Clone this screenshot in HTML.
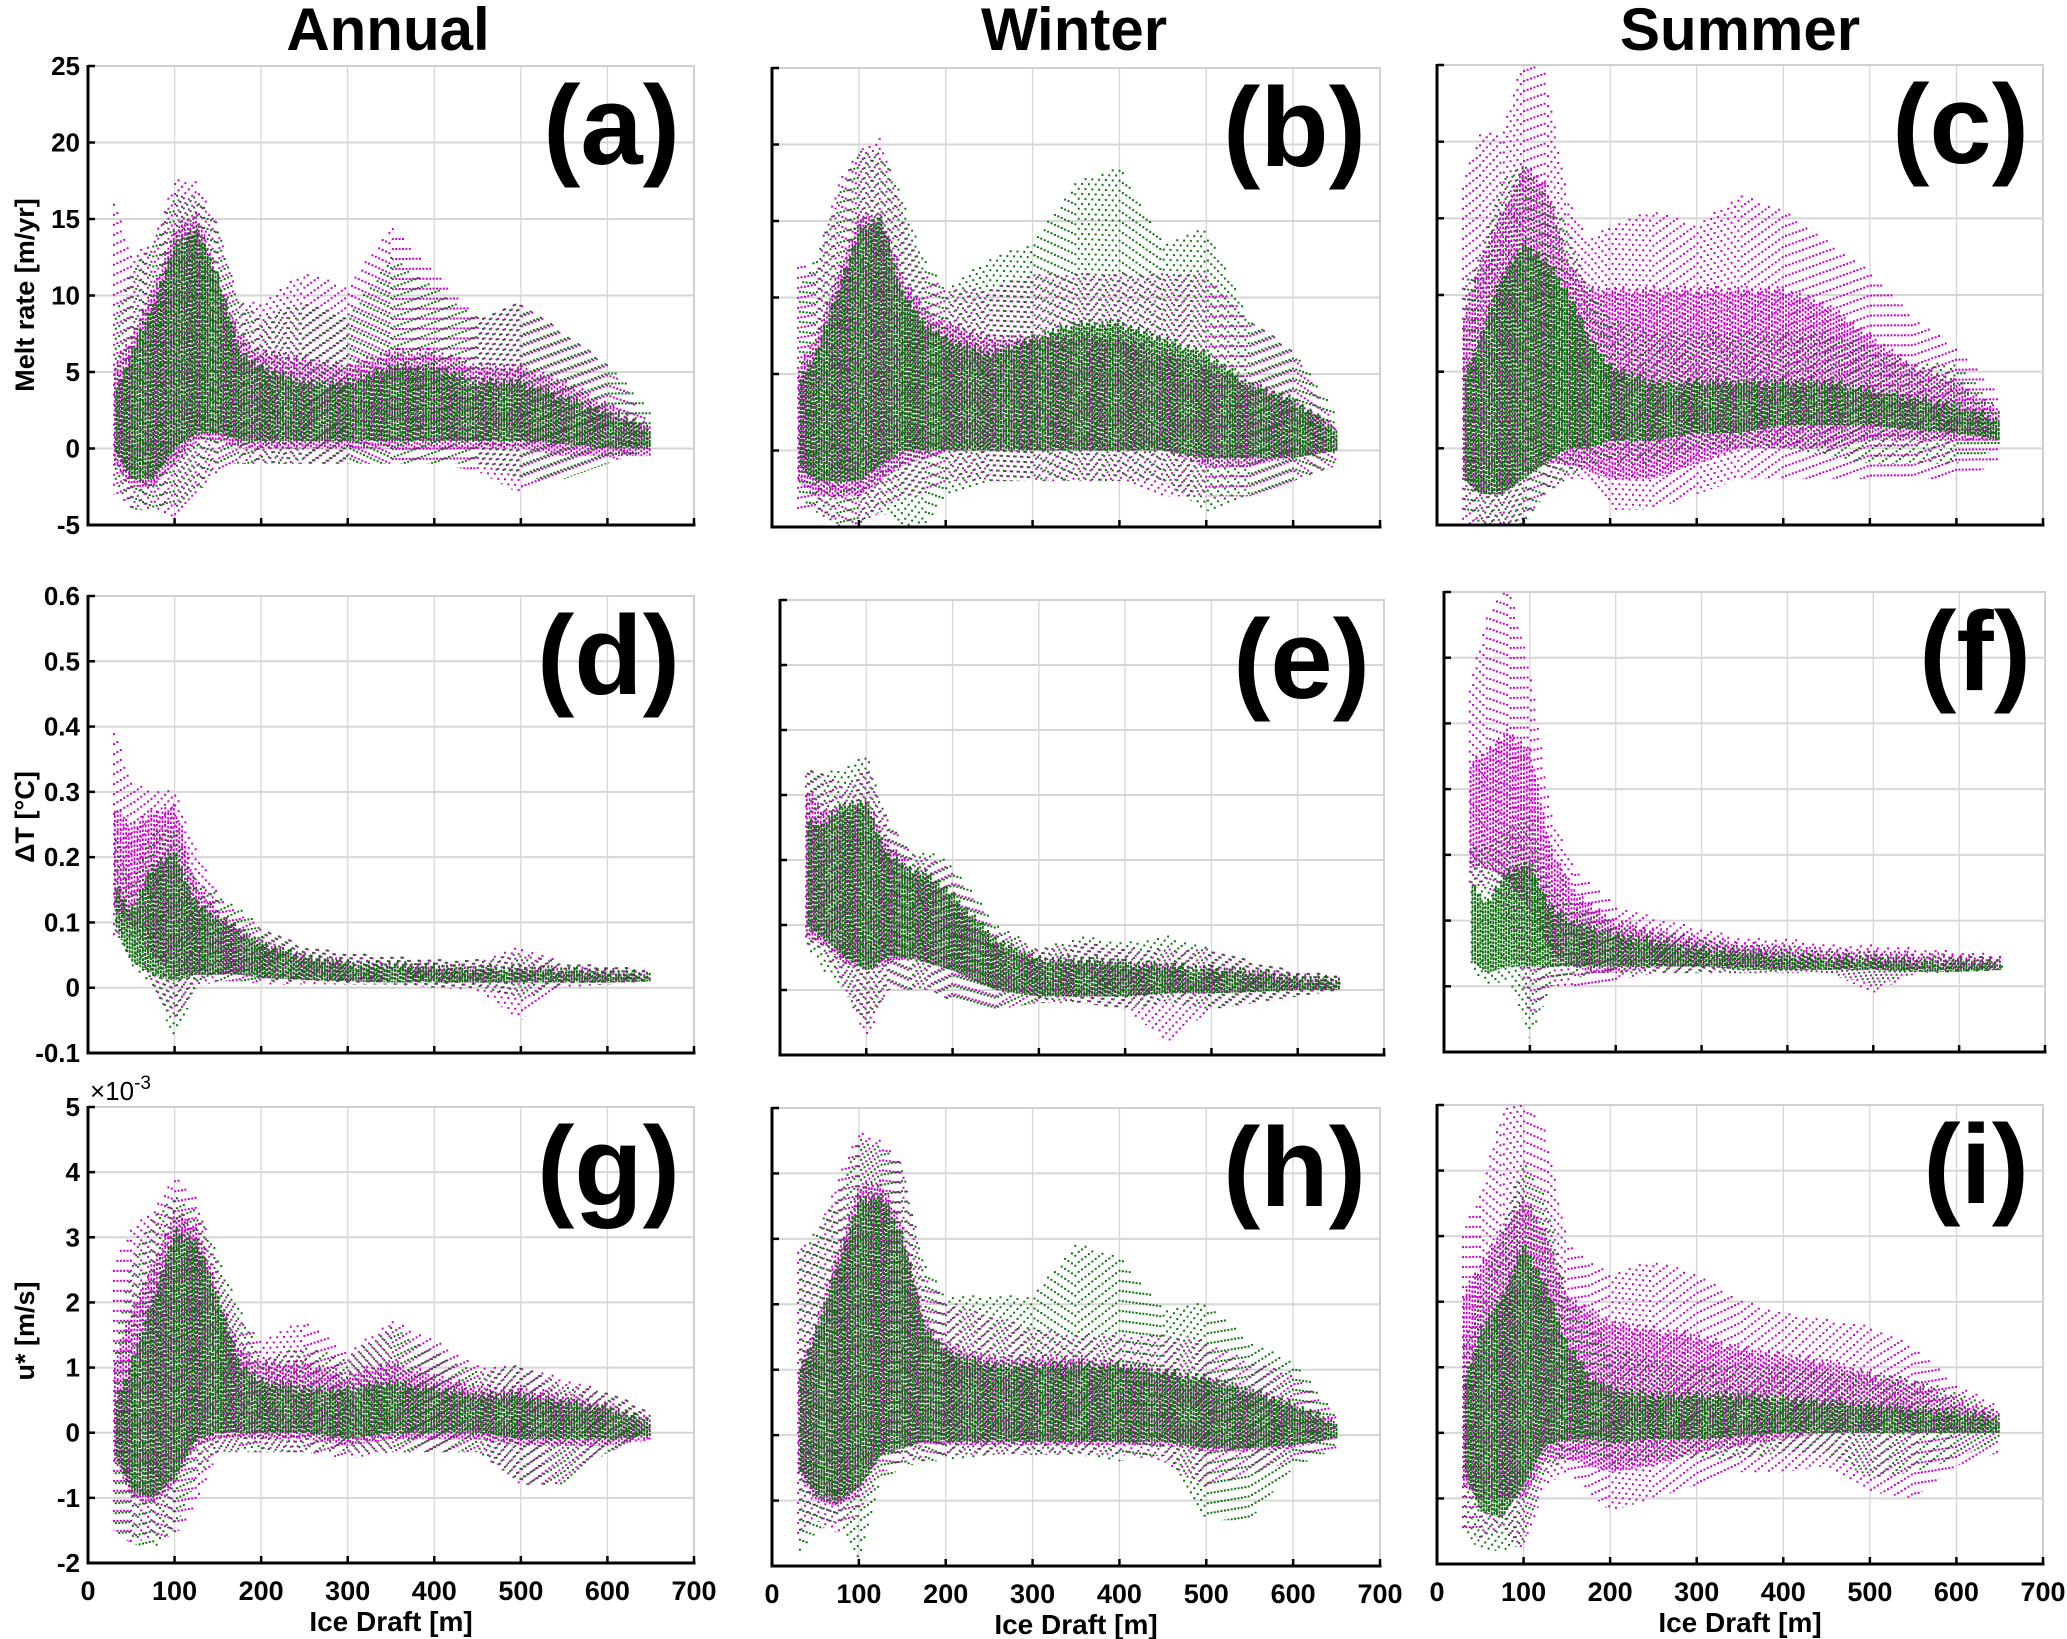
<!DOCTYPE html>
<html><head><meta charset="utf-8"><style>
html,body{margin:0;padding:0;background:#fff;}
svg{display:block;}
text{font-family:"Liberation Sans",Arial,sans-serif;}
</style></head><body>
<svg id="fig" width="2067" height="1639" viewBox="0 0 2067 1639" xmlns="http://www.w3.org/2000/svg">
<rect width="2067" height="1639" fill="#fff"/>
<text x="388" y="50" font-size="60" font-weight="bold" text-anchor="middle">Annual</text>
<text x="1074" y="50" font-size="60" font-weight="bold" text-anchor="middle">Winter</text>
<text x="1740" y="50" font-size="60" font-weight="bold" text-anchor="middle">Summer</text>
<g id="plots"></g>
</svg>
<script>
// ---- data (draft bins in m) ----
const draft=[30,50,75,100,125,150,175,200,250,300,350,400,450,500,550,600,650];
// (a) annual melt rate [m/yr]
const a_g_hi=[8,11,13,16,16,14,9,8,9,8,12,10,8,9,7,5,2];
const a_g_lo=[-2,-4,-4,-4,-3,-1,-1,-1,-1,-1,-1,-1,-1,-2,-2,-1,0];
const a_g_chi=[3,6,9,13,14,11,6,5,4,4,5,5,4,4,3,2,1];
const a_g_clo=[0,-2,-2,0,1,1,0.5,0.5,0.5,0.5,0.5,0.5,0.5,0.5,0.3,0,0];
const a_m_hi=[16,12,13,17,17,14,9,9,11,10,14,11,8,9,7,5,1];
const a_m_lo=[-3,-4,-4,-4.5,-3,-1.5,-1,-1,-1,-1,-1,-1,-1.5,-3,-2,-1,0];
const a_m_chi=[5,7,10,14,15,11,7,6,5.5,5,6,6,5,5,4,2.5,1];
const a_m_clo=[-1,-2.5,-2.5,-1,0.5,0.5,0,0,0,0,0,0,0,0,-0.5,-0.5,-0.5];
// (b) winter melt rate
const b_g_hi=[10,12,16,19,19,16,12,10,12,13,17,18,13,14,8,6,2];
const b_g_lo=[-3,-4,-5,-5,-4,-5,-5,-3,-2,-2,-2,-2,-2,-4,-3,-2,-1];
const b_g_chi=[4,6,10,14,15,10,8,7,6,7,8,8,7,6,4,3,1];
const b_g_clo=[-1,-2,-2,-2,-1,0,0,0,0,0,0,0,0,-0.5,-0.5,-0.5,0];
const b_m_hi=[12,11,17,19,20,15,11,10,10,11,11,11,11,11,8,6,1];
const b_m_lo=[-4,-4,-5,-5,-4,-3,-3,-2,-2,-2,-2,-2,-3,-3,-3,-2,-1];
const b_m_chi=[5,7,11,15,15,11,9,8,7,7,7,7,6,5,4,3,1];
const b_m_clo=[-2,-3,-3,-3,-2,-1,-0.5,0,0,0,0,0,0,-1,-1,-0.5,0];
// (c) summer melt rate
const c_g_hi=[10,12,17,18,16,14,10,8,7,7,7,7,7,6,5,5,2];
const c_g_lo=[-4,-5,-5,-5,-3,-2,-1,-1,-1,0,0,0,-0.5,-1,-1,-1,0];
const c_g_chi=[4,7,11,13,12,10,7,5,4,4,4,4,4,3.5,3,2.5,1.5];
const c_g_clo=[-2,-3,-3,-2,-1,0,0,0.5,0.5,1,1,1.5,1.5,1.5,1.2,1,0.5];
const c_m_hi=[17,20,20,25,24,16,13,14,15,14,16,15,13,11,8,6,3];
const c_m_lo=[-5,-5,-5,-5,-3,-2,-2,-4,-4,-3,-2,-2,-2,-2,-2,-2,-1];
const c_m_chi=[8,12,15,18,17,12,10,10,10,10,10,10,9,7,5,4,2];
const c_m_clo=[-2,-3,-3,-2,-1,-1,-1.5,-2,-2,-1,0,0,0,0.5,0.5,0.5,0.5];
// (d) annual dT [C]
const d_g_hi=[0.23,0.15,0.23,0.23,0.15,0.13,0.11,0.08,0.05,0.04,0.035,0.03,0.03,0.04,0.025,0.02,0.015];
const d_g_lo=[0.08,0.03,0.0,-0.08,0.0,0.01,0.01,0.01,0.01,0.005,0.005,0.0,0.0,-0.02,0.005,0.005,0.01];
const d_g_chi=[0.15,0.11,0.18,0.2,0.12,0.1,0.08,0.06,0.04,0.03,0.028,0.025,0.022,0.022,0.02,0.017,0.013];
const d_g_clo=[0.1,0.04,0.02,0.01,0.02,0.02,0.02,0.015,0.012,0.01,0.008,0.008,0.008,0.008,0.008,0.008,0.01];
const d_m_hi=[0.39,0.3,0.29,0.29,0.2,0.13,0.1,0.08,0.05,0.04,0.035,0.03,0.03,0.05,0.025,0.02,0.015];
const d_m_lo=[0.08,0.08,0.0,-0.05,0.0,0.01,0.01,0.005,0.005,0.005,0.005,0.0,-0.005,-0.05,0.0,0.005,0.01];
const d_m_chi=[0.27,0.24,0.26,0.27,0.15,0.11,0.08,0.06,0.04,0.03,0.028,0.025,0.022,0.022,0.02,0.017,0.013];
const d_m_clo=[0.12,0.1,0.05,0.02,0.02,0.02,0.02,0.015,0.012,0.01,0.008,0.008,0.008,0.008,0.008,0.008,0.01];
// (e) winter dT
const e_g_hi=[0.33,0.32,0.33,0.35,0.25,0.2,0.2,0.18,0.09,0.05,0.07,0.06,0.07,0.05,0.03,0.015,0.01];
const e_g_lo=[0.07,0.03,0.0,-0.06,0.0,0.0,0.0,-0.02,-0.03,-0.02,-0.02,-0.03,-0.02,-0.03,-0.02,-0.01,0.0];
const e_g_chi=[0.25,0.25,0.28,0.28,0.2,0.18,0.17,0.14,0.07,0.04,0.04,0.035,0.03,0.025,0.02,0.012,0.008];
const e_g_clo=[0.1,0.08,0.05,0.03,0.05,0.05,0.04,0.03,0.0,-0.01,-0.01,-0.01,-0.005,-0.005,-0.003,0.0,0.0];
const e_m_hi=[0.33,0.32,0.3,0.33,0.25,0.2,0.19,0.17,0.08,0.05,0.06,0.05,0.05,0.05,0.03,0.015,0.01];
const e_m_lo=[0.07,0.06,0.0,-0.08,0.0,0.0,0.0,-0.02,-0.03,-0.02,-0.02,-0.03,-0.08,-0.03,-0.02,-0.01,0.0];
const e_m_chi=[0.3,0.27,0.26,0.28,0.22,0.18,0.16,0.13,0.06,0.035,0.035,0.03,0.03,0.025,0.02,0.012,0.008];
const e_m_clo=[0.08,0.07,0.04,0.03,0.04,0.05,0.04,0.03,0.0,-0.01,-0.01,-0.01,-0.005,-0.005,-0.003,0.0,0.0];
// (f) summer dT
const f_g_hi=[0.2,0.2,0.23,0.25,0.14,0.11,0.1,0.08,0.07,0.06,0.05,0.05,0.04,0.04,0.035,0.035,0.03];
const f_g_lo=[0.03,0.0,0.01,-0.08,0.0,0.01,0.02,0.02,0.02,0.02,0.02,0.02,0.02,0.0,0.02,0.02,0.025];
const f_g_chi=[0.15,0.12,0.17,0.18,0.11,0.09,0.08,0.07,0.06,0.05,0.045,0.04,0.035,0.035,0.03,0.03,0.028];
const f_g_clo=[0.04,0.02,0.03,0.03,0.03,0.03,0.03,0.03,0.03,0.03,0.025,0.025,0.025,0.025,0.022,0.022,0.025];
const f_m_hi=[0.45,0.55,0.6,0.47,0.25,0.17,0.14,0.11,0.09,0.075,0.06,0.06,0.05,0.05,0.045,0.04,0.035];
const f_m_lo=[0.15,0.15,0.1,-0.05,0.0,0.0,0.0,0.01,0.02,0.02,0.02,0.02,0.02,-0.01,0.02,0.02,0.025];
const f_m_chi=[0.33,0.35,0.38,0.35,0.2,0.14,0.11,0.09,0.075,0.065,0.055,0.05,0.045,0.042,0.04,0.036,0.032];
const f_m_clo=[0.18,0.18,0.16,0.12,0.05,0.03,0.02,0.02,0.03,0.03,0.03,0.025,0.025,0.025,0.025,0.025,0.025];
// (g) annual u* [1e-3 m/s]
const g_g_hi=[1.2,2.5,3.2,3.5,3.3,2.6,1.8,1.0,1.2,1.0,1.5,1.1,0.8,0.9,0.6,0.5,0.2];
const g_g_lo=[-1.5,-1.7,-1.8,-1.5,-0.7,-0.3,-0.3,-0.3,-0.3,-0.3,-0.3,-0.3,-0.3,-0.8,-0.8,-0.3,0];
const g_g_chi=[0.3,1.0,2.0,3.0,2.9,2.0,1.0,0.7,0.6,0.6,0.7,0.6,0.5,0.5,0.4,0.3,0.1];
const g_g_clo=[-0.3,-0.9,-1.0,-0.7,-0.1,0,0,0,0,-0.1,0,0,0,-0.1,-0.1,-0.1,-0.05];
const g_m_hi=[2.5,3.0,3.3,3.8,3.5,2.4,1.6,1.3,1.6,1.1,1.6,1.3,0.9,0.9,0.7,0.5,0.2];
const g_m_lo=[-1.5,-1.7,-1.6,-1.6,-1.1,-0.3,-0.3,-0.3,-0.3,-0.4,-0.3,-0.3,-0.3,-0.8,-0.8,-0.3,-0.1];
const g_m_chi=[1.0,1.8,2.5,3.3,3.1,2.1,1.2,1.0,1.0,0.8,1.0,0.8,0.6,0.6,0.5,0.35,0.1];
const g_m_clo=[-0.4,-1.0,-1.1,-0.8,-0.2,-0.1,-0.1,-0.1,-0.1,-0.2,-0.1,-0.1,-0.1,-0.2,-0.2,-0.2,-0.1];
// (h) winter u*
const h_g_hi=[2.6,3.0,3.5,4.4,4.3,4.0,2.5,2.0,2.0,2.0,2.8,2.6,1.8,1.9,1.3,1.0,0.2];
const h_g_lo=[-1.8,-1.5,-1.3,-2.0,-0.7,-0.5,-0.4,-0.4,-0.3,-0.3,-0.3,-0.4,-0.3,-1.3,-1.3,-0.5,-0.2];
const h_g_chi=[0.8,1.5,2.5,3.5,3.6,3.0,1.6,1.2,1.0,1.0,1.0,1.0,0.9,0.8,0.6,0.4,0.1];
const h_g_clo=[-0.5,-0.9,-1.0,-0.8,-0.3,-0.2,-0.1,-0.1,-0.1,-0.1,-0.1,-0.1,-0.1,-0.2,-0.2,-0.15,-0.05];
const h_m_hi=[2.8,2.8,3.8,4.5,4.4,4.0,2.3,1.9,1.7,1.5,1.4,1.4,1.4,1.3,1.0,0.8,0.2];
const h_m_lo=[-1.6,-1.3,-1.5,-1.2,-0.6,-0.4,-0.4,-0.3,-0.3,-0.3,-0.3,-0.3,-0.4,-0.8,-0.6,-0.4,-0.2];
const h_m_chi=[0.9,1.6,2.7,3.7,3.8,3.1,1.7,1.3,1.1,1.1,1.1,1.0,0.9,0.8,0.6,0.4,0.1];
const h_m_clo=[-0.6,-1.0,-1.1,-0.9,-0.3,-0.2,-0.15,-0.15,-0.15,-0.15,-0.15,-0.15,-0.15,-0.25,-0.25,-0.2,-0.05];
// (i) summer u*
const i_g_hi=[1.2,2.0,3.0,4.0,3.5,2.0,1.6,1.2,1.0,0.9,0.9,0.9,0.8,0.8,0.7,0.5,0.2];
const i_g_lo=[-1.5,-1.8,-1.8,-1.7,-0.6,-0.4,-0.3,-0.5,-0.4,-0.4,-0.4,-0.3,-0.3,-0.7,-0.6,-0.4,-0.1];
const i_g_chi=[0.6,1.5,2.0,2.8,2.2,1.3,0.8,0.6,0.5,0.5,0.5,0.45,0.4,0.35,0.3,0.25,0.15];
const i_g_clo=[-0.5,-1.2,-1.3,-0.8,-0.2,-0.1,-0.1,-0.15,-0.1,-0.1,-0.05,0,0,0,0,0,0];
const i_m_hi=[3.0,3.5,4.8,5.0,4.5,2.8,2.5,2.3,2.5,2.3,1.9,1.7,1.6,1.5,1.2,0.6,0.3];
const i_m_lo=[-1.5,-1.6,-1.5,-1.8,-0.8,-0.6,-0.9,-1.2,-1.0,-0.8,-0.6,-0.6,-0.5,-0.9,-1.0,-0.5,-0.3];
const i_m_chi=[2.0,2.5,3.0,3.5,3.0,2.0,1.8,1.6,1.5,1.4,1.2,1.1,1.0,0.8,0.7,0.4,0.2];
const i_m_clo=[-0.8,-1.0,-1.0,-1.0,-0.4,-0.4,-0.5,-0.6,-0.5,-0.3,-0.2,-0.1,0,0,0,0,0];
// tick labels
const xTicks=[0,100,200,300,400,500,600,700];
const meltTicks=[-5,0,5,10,15,20,25];
const dtTicks=[-0.1,0,0.1,0.2,0.3,0.4,0.5,0.6];
const uTicks=[-2,-1,0,1,2,3,4,5];

const NS="http://www.w3.org/2000/svg";
const root=document.getElementById('plots');
function mk(tag,attrs,parent){const e=document.createElementNS(NS,tag);for(const k in attrs)e.setAttribute(k,attrs[k]);(parent||root).appendChild(e);return e;}
function interp(arr,d){
  if(d<=draft[0])return arr[0];
  for(let i=1;i<draft.length;i++){if(d<=draft[i]){const t=(d-draft[i-1])/(draft[i]-draft[i-1]);return arr[i-1]+t*(arr[i]-arr[i-1]);}}
  return arr[arr.length-1];
}
const panels=[
 {id:'a',L:88,R:694,T:66,B:525,ymin:-5,ymax:25,ticks:meltTicks,ylab:true,xlab:false,s:[a_m_hi,a_m_lo,a_m_chi,a_m_clo,a_g_hi,a_g_lo,a_g_chi,a_g_clo]},
 {id:'b',L:772,R:1380,T:68,B:527,ymin:-5,ymax:25,ticks:meltTicks,ylab:false,xlab:false,s:[b_m_hi,b_m_lo,b_m_chi,b_m_clo,b_g_hi,b_g_lo,b_g_chi,b_g_clo]},
 {id:'c',L:1437,R:2043,T:65,B:525,ymin:-5,ymax:25,ticks:meltTicks,ylab:false,xlab:false,s:[c_m_hi,c_m_lo,c_m_chi,c_m_clo,c_g_hi,c_g_lo,c_g_chi,c_g_clo]},
 {id:'d',L:88,R:694,T:596,B:1053,ymin:-0.1,ymax:0.6,ticks:dtTicks,ylab:true,xlab:false,s:[d_m_hi,d_m_lo,d_m_chi,d_m_clo,d_g_hi,d_g_lo,d_g_chi,d_g_clo]},
 {id:'e',L:780,R:1384,T:600,B:1055,ymin:-0.1,ymax:0.6,ticks:dtTicks,ylab:false,xlab:false,s:[e_m_hi,e_m_lo,e_m_chi,e_m_clo,e_g_hi,e_g_lo,e_g_chi,e_g_clo]},
 {id:'f',L:1444,R:2045,T:592,B:1052,ymin:-0.1,ymax:0.6,ticks:dtTicks,ylab:false,xlab:false,s:[f_m_hi,f_m_lo,f_m_chi,f_m_clo,f_g_hi,f_g_lo,f_g_chi,f_g_clo]},
 {id:'g',L:88,R:694,T:1107,B:1563,ymin:-2,ymax:5,ticks:uTicks,ylab:true,xlab:true,s:[g_m_hi,g_m_lo,g_m_chi,g_m_clo,g_g_hi,g_g_lo,g_g_chi,g_g_clo]},
 {id:'h',L:772,R:1380,T:1108,B:1566,ymin:-2,ymax:5,ticks:uTicks,ylab:false,xlab:true,s:[h_m_hi,h_m_lo,h_m_chi,h_m_clo,h_g_hi,h_g_lo,h_g_chi,h_g_clo]},
 {id:'i',L:1437,R:2043,T:1105,B:1564,ymin:-2,ymax:5,ticks:uTicks,ylab:false,xlab:true,s:[i_m_hi,i_m_lo,i_m_chi,i_m_clo,i_g_hi,i_g_lo,i_g_chi,i_g_clo]}
];
panels.forEach(p=>{
  const g=mk('g',{});
  
  
  const xs=d=>p.L+(d/700)*(p.R-p.L);
  const ys=v=>p.B-(v-p.ymin)/(p.ymax-p.ymin)*(p.B-p.T);
  const xd=px=>(px-p.L)/(p.R-p.L)*700;
  xTicks.forEach(t=>{if(t>0){const l=mk('line',{x1:xs(t),x2:xs(t),y1:p.T,y2:p.B,stroke:'#d6d6d6','stroke-width':1.3},g);}});
  p.ticks.forEach(t=>{const l=mk('line',{x1:p.L,x2:p.R,y1:ys(t),y2:ys(t),stroke:'#d6d6d6','stroke-width':2},g);});
  mk('polyline',{points:`${p.L},${p.T} ${p.R},${p.T} ${p.R},${p.B}`,fill:'none',stroke:'#d0d0d0','stroke-width':2},g);
  const cp=mk('clipPath',{id:'clip'+p.id},g);
  mk('rect',{x:p.L,y:p.T,width:p.R-p.L,height:p.B-p.T},cp);
  const sg=mk('g',{'clip-path':`url(#clip${p.id})`},g);
  const layers=[
    {hi:p.s[0],lo:p.s[1],col:'#cc00cc',dash:'2 8',w:2,step:3.4,name:'magenta-scatter-outer'},
    {hi:p.s[2],lo:p.s[3],col:'#cc00cc',dash:'2.5 2',w:1.8,step:2.8,name:'magenta-scatter-core'},
    {hi:p.s[4],lo:p.s[5],col:'#0b750b',dash:'2 8',w:2,step:3.4,name:'green-scatter-outer'},
    {hi:p.s[6],lo:p.s[7],col:'#0a6e0a',dash:'3 1',w:1.9,step:2.6,name:'green-scatter-core'}
  ];
  const x0=xs(draft[0]),x1=xs(draft[draft.length-1]);
  layers.forEach((ly,li)=>{
    let dstr='';let k=0;
    for(let px=x0+(li*0.9);px<=x1;px+=ly.step){
      const d=xd(px);
      const yh=ys(interp(ly.hi,d)),yl=ys(interp(ly.lo,d));
      const off=((k*37+li*13)%11)*0.9;
      dstr+=`M${px.toFixed(1)} ${(yh-off).toFixed(1)}V${yl.toFixed(1)}`;k++;
    }
    const path=mk('path',{d:dstr,stroke:ly.col,'stroke-width':ly.w,'stroke-dasharray':ly.dash,fill:'none'},sg);
    
    
  });
  mk('line',{x1:p.L,x2:p.L,y1:p.T-1,y2:p.B+1.5,stroke:'#000','stroke-width':3},g);
  mk('line',{x1:p.L-1.5,x2:p.R+1.5,y1:p.B,y2:p.B,stroke:'#000','stroke-width':3},g);
  xTicks.forEach(t=>{mk('line',{x1:xs(t),x2:xs(t),y1:p.B,y2:p.B-7,stroke:'#000','stroke-width':2.5},g);
    if(p.xlab){const tx=mk('text',{x:xs(t),y:p.B+37,'font-size':27,'font-weight':'bold','text-anchor':'middle'},g);tx.textContent=t;}});
  p.ticks.forEach(t=>{mk('line',{x1:p.L,x2:p.L+7,y1:ys(t),y2:ys(t),stroke:'#000','stroke-width':2.5},g);
    if(p.ylab){const tx=mk('text',{x:p.L-8,y:ys(t)+9,'font-size':26,'font-weight':'bold','text-anchor':'end'},g);tx.textContent=String(Math.round(t*10)/10);}});
  const pl=mk('text',{x:p.R-14,y:p.T+98,'font-size':112,'font-weight':'bold','text-anchor':'end'},g);
  pl.textContent='('+p.id+')';
  
  
  if(p.xlab){const xl=mk('text',{x:(p.L+p.R)/2,y:p.B+68,'font-size':28,'font-weight':'bold','text-anchor':'middle'},g);xl.textContent='Ice Draft [m]';}
});
function ytitle(txt,cy,name){const t=mk('text',{x:0,y:0,'font-size':27,'font-weight':'bold','text-anchor':'middle',transform:`translate(34,${cy}) rotate(-90)`});t.textContent=txt;return t;}
ytitle('Melt rate [m/yr]',295,'y-axis-title-melt');
ytitle('\u0394T [\u00B0C]',817,'y-axis-title-dt');
ytitle('u* [m/s]',1331,'y-axis-title-ustar');
const ex=mk('text',{x:90,y:1100,'font-size':26});


ex.innerHTML='\u00D710<tspan dy="-11" font-size="19">-3</tspan>';
</script>
</body></html>
